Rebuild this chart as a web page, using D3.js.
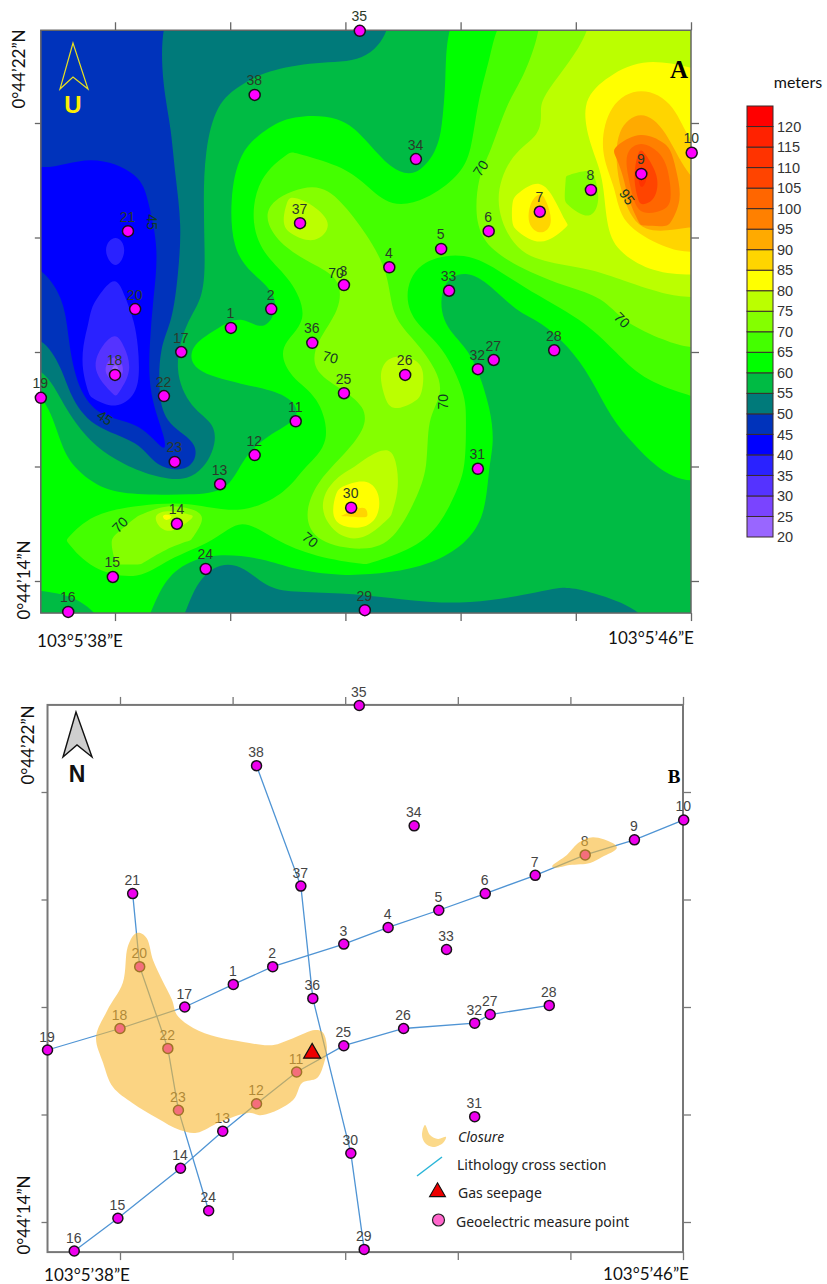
<!DOCTYPE html>
<html lang="en">

<head>
  <meta charset="UTF-8" />
  <script src="https://d3js.org/d3.v7.min.js"></script>
  <title>Geoelectric contour map and cross sections</title>
  <style>
    html, body { margin: 0; background: #fff; }
    svg { display: block; }
    text { font-family: "Liberation Sans", Arial, sans-serif; }
    .coord { font-family: Lato, sans-serif; font-size: 17px; fill: #111; }
    .legend-label { font-family: "Noto Sans", sans-serif; font-size: 14px; fill: #222; }
  </style>
</head>

<body>
  <svg width="827" height="1284"></svg>

  <script>
    // Stations, longitude and latitude are arc seconds past 103°5' and 0°44'
    const stationNo = d3.range(1, 39);
    const stationLon = [39.61, 40.17, 41.18, 41.81, 42.53, 43.19, 43.90, 44.61, 45.31, 46.01,
      40.51, 39.94, 39.46, 38.86, 37.97, 37.35, 38.92, 38.00, 36.97, 38.28,
      38.18, 38.68, 38.83, 39.26, 41.18, 42.03, 43.26, 44.10, 41.47, 41.28,
      43.04, 43.04, 42.64, 42.18, 41.40, 40.74, 40.57, 39.94];
    const stationLat = [18.42, 18.75, 19.17, 19.48, 19.80, 20.11, 20.45, 20.83, 21.11, 21.48,
      16.79, 16.20, 15.69, 15.00, 14.07, 13.46, 18.00, 17.60, 17.20, 18.75,
      20.11, 17.23, 16.08, 14.21, 17.28, 17.60, 17.86, 18.03, 13.49, 15.28,
      15.96, 17.70, 19.07, 21.37, 23.61, 18.16, 20.25, 22.49];

    // Cross section lines, as station numbers
    const sectionLines = [
      [19, 18, 17, 1, 2, 3, 4, 5, 6, 7, 8, 9, 10],
      [16, 15, 14, 13, 12, 11, 25, 26, 32, 27, 28],
      [21, 20, 22, 23, 24],
      [38, 37, 36, 30, 29]
    ];

    // Map extent and ticks, arc seconds
    const lonMin = 36.97, lonMax = 46.0, latMin = 13.44, latMax = 23.62;
    const lonTicks = [38, 39.6, 41.2, 42.8, 44.4, 46];
    const latTicks = [22, 20, 18, 16, 14];

    // Legend bands in meters
    const bandFloors = d3.range(20, 125, 5);
    const bandColors = ["#9966ff", "#7a44ff", "#5533ff", "#2a22ff", "#0000ff", "#0033bb", "#007a7a",
      "#00bb44", "#00ff00", "#44ff00", "#84ff00", "#bbff00", "#ffff00", "#ffd500", "#ffaa00",
      "#ff8000", "#ff6600", "#ff4400", "#ff3300", "#ff2200", "#ff0000"];
    const bandTicks = d3.range(20, 125, 5);

    // Values at regular points, north row first, west to east
    const fieldRows = [
      [47, 47, 47, 48, 49, 50, 51, 52, 52.5, 53, 53, 53, 53, 53, 55, 57.5, 59.5, 62, 64.5, 67.5, 70, 72.5, 75, 76, 77, 77.5, 78],
      [47, 47, 47, 48, 49, 50.3, 51, 52, 52.5, 53, 53.5, 54, 54, 54, 55.5, 57.5, 59.5, 62, 65, 68, 71, 74, 76, 78, 79.5, 79.5, 79],
      [47, 47, 47, 48, 49, 50.3, 51.5, 53, 54.5, 56, 57, 57.5, 57.5, 57, 57, 58, 59.5, 62, 65.5, 69, 72.5, 76, 78.5, 81.5, 83.5, 83, 81],
      [47, 47, 47, 48, 48.5, 50, 51.5, 55, 56.5, 58, 59, 59.5, 59.5, 59, 58, 58.5, 59.5, 63, 67.5, 71.5, 75.5, 78, 81.5, 86.5, 89, 87, 82],
      [47, 47, 47, 47.5, 48, 49.5, 52, 56, 58, 59.8, 61, 61.5, 60.5, 59.5, 58, 58, 59.8, 64, 67, 70.4, 74, 78, 82, 89.5, 93.5, 89.5, 83.5],
      [46.5, 45.4, 45.1, 45.8, 47, 49.5, 52.5, 57, 60.3, 63, 65, 64.5, 62.5, 60.5, 58.5, 57.5, 60.5, 63.5, 70, 76, 77, 78, 79.7, 97, 106, 98, 85],
      [44.9, 43.8, 43.5, 43.5, 44.8, 48.5, 52.5, 56.5, 60.8, 67, 69.5, 69, 67, 64, 60.5, 59.7, 60.8, 66.5, 74, 77, 79.5, 75, 73, 87, 114, 102, 87],
      [44.5, 41.5, 41, 41, 44, 47.5, 52.5, 57.5, 62, 69.5, 76, 74, 70, 67, 64, 64.3, 66, 68.5, 74.8, 81, 88, 74, 70, 82.7, 108, 103, 90.5],
      [44, 40.7, 40.7, 40.5, 42.5, 46.5, 52, 57, 62, 70.2, 78, 77.5, 74, 69.5, 67, 66, 66, 68.5, 73, 81.5, 90, 80.5, 75.5, 83, 95.5, 96, 90.3],
      [44.7, 41, 40.7, 39, 41, 46.5, 52.5, 57, 61.5, 66.5, 71, 74.5, 72.5, 71, 68.5, 66.5, 65.8, 65.5, 71, 75.5, 79.5, 77, 76.5, 80.5, 84, 85, 86],
      [46, 42.5, 41, 40, 41.5, 47, 53, 55.8, 58.5, 62.5, 66, 68, 70.3, 71.5, 69.9, 63.5, 61, 59, 62, 68.5, 71, 73, 74.7, 76, 79.5, 80.5, 80.5],
      [47.5, 44.5, 40.5, 38.5, 42.5, 47.5, 52.5, 57, 58, 58, 61, 65.5, 69, 71, 68, 62, 58, 55.5, 58, 62, 65, 67.5, 69, 71, 73, 74.5, 75],
      [49, 46, 39.5, 37, 41, 47.5, 57, 59, 61, 57.5, 60.5, 66, 71, 72, 70.5, 64, 59.8, 56.5, 57, 58.5, 60, 63, 66, 69.5, 71.5, 73, 74],
      [51.5, 46, 37, 32, 41, 53, 60.5, 62, 62, 62, 69.8, 71, 71, 73, 74, 71.5, 65.5, 59.9, 57.5, 57, 57.5, 59.8, 62, 65.5, 68, 69.3, 70.3],
      [57, 49, 35, 22, 41, 53, 60.2, 62, 62, 63, 68, 70.5, 71.5, 73, 77, 78.5, 68.5, 63.5, 56.5, 56, 56.5, 57.5, 60.8, 63.5, 66, 67.5, 68],
      [62, 52, 39, 34.5, 41, 54, 56.5, 58, 58.5, 59, 59.8, 64.5, 69.5, 71.5, 76.5, 76.5, 70.5, 65, 59, 56, 56, 56.5, 58, 61.5, 63, 64, 65.3],
      [63, 56.5, 47, 43, 44, 52.5, 54, 55.2, 58, 59, 58, 62, 66.5, 68.5, 74.5, 71.5, 68, 65, 60.5, 56.5, 56, 56, 56.5, 60.8, 62.5, 63.5, 64.5],
      [63.5, 59, 55, 51.5, 50.5, 43.5, 47, 54, 58.5, 60.5, 62, 63, 66, 72, 74.9, 72, 68, 65, 60.5, 56.5, 56, 56, 56, 58.3, 60.8, 61.5, 63],
      [63.5, 60.5, 58.5, 56.5, 54, 46.5, 47.5, 57, 60.5, 62, 63.5, 66.5, 72.5, 77, 76.5, 71, 69, 65, 59.5, 56, 55.5, 55.5, 55.5, 56, 58, 61.5, 62],
      [62.5, 62, 60.8, 59.3, 58.5, 57, 57.5, 59, 61, 62.5, 65.3, 72, 82, 84, 77, 70.5, 67.5, 63.5, 59.8, 56, 55.5, 55.5, 55.5, 55.5, 56, 57.5, 59.5],
      [63.5, 63, 65.5, 67, 70.5, 82, 76, 67, 65, 66, 67.5, 72.5, 85, 86, 75, 69, 66, 63.5, 59, 55.5, 55.5, 55.5, 55.5, 55.5, 55.5, 56, 56.5],
      [64.5, 65, 67, 71, 73, 74, 70, 65.5, 63, 64, 67, 71, 74.5, 74.8, 70.5, 67, 63, 60.5, 57, 56.5, 56.5, 56.5, 56.5, 56.5, 56.5, 56.5, 56.5],
      [63, 63.5, 66, 70, 70, 62.5, 58, 54.5, 54.5, 58.8, 61, 62.5, 64.5, 65, 62, 61, 59.3, 57.5, 56.5, 56.5, 56.5, 56.5, 56.5, 56.5, 56.5, 56.5, 56.5],
      [60.3, 60.2, 62, 64, 62.5, 59, 55.3, 52, 52, 54.8, 55.5, 55.7, 55.5, 55.4, 56.2, 57.5, 57.5, 57, 56.5, 55.8, 55.2, 54.8, 55.3, 56.5, 57, 57, 57],
      [57, 58, 59.5, 61, 60.2, 57, 53, 51, 51, 51.5, 52, 52.5, 52.5, 52.5, 53, 53.5, 53.5, 53.5, 53.5, 53.5, 53.5, 53.5, 53, 53.5, 54.5, 55.5, 56]
    ];

    // Labels sitting on the contours: text, lon, lat, rotation
    const contourLabels = [
      ["45", 38.51, 20.27, 90], ["70", 43.08, 21.21, -55], ["95", 45.11, 20.71, 55],
      ["70", 45.04, 18.56, 45], ["70", 41.07, 19.38, 0], ["70", 40.99, 17.91, 15],
      ["70", 42.56, 17.13, -90], ["45", 37.86, 16.85, 35], ["70", 38.07, 14.98, -45],
      ["70", 40.71, 14.72, 40]
    ];

    // Closure outlines on the lower map
    const closureWest = [[38.21, 19.36], [38.28, 19.38], [38.38, 19.28], [38.47, 18.87], [38.60, 18.50],
      [38.74, 18.13], [38.81, 17.85], [39.04, 17.61], [39.38, 17.44], [39.75, 17.35], [40.16, 17.29],
      [40.46, 17.42], [40.77, 17.57], [40.88, 17.53], [40.94, 17.26], [40.90, 16.96], [40.80, 16.68],
      [40.59, 16.59], [40.46, 16.27], [40.03, 15.99], [39.82, 16.03], [39.42, 15.86], [39.09, 15.66],
      [38.85, 15.71], [38.53, 15.93], [38.18, 16.21], [37.90, 16.51], [37.76, 16.96], [37.66, 17.44],
      [37.82, 17.94], [38.04, 18.45], [38.11, 19.12]];
    const closureEast = [[44.14, 20.62], [44.35, 20.83], [44.53, 21.07], [44.72, 21.16], [45.00, 21.05],
      [45.06, 20.96], [44.85, 20.79], [44.68, 20.68], [44.39, 20.64], [44.18, 20.59]];
    const gasSeepage = [40.73, 17.14];

    const svg = d3.select("svg");

    // Scales for the two maps
    const xA = d3.scaleLinear().domain([38, 46]).range([115, 691]);
    const yA = d3.scaleLinear().domain([14, 22]).range([581, 123]);
    const xB = d3.scaleLinear().domain([38, 46]).range([120, 683]);
    const yB = d3.scaleLinear().domain([14, 22]).range([1222, 792]);

    const station = no => [stationLon[no - 1], stationLat[no - 1]];

    // ---- Contour field ----
    const rows = fieldRows.length, cols = fieldRows[0].length;
    const gridLon = d3.scaleLinear().domain([0, cols - 1]).range([lonMin, lonMax]);
    const gridLat = d3.scaleLinear().domain([0, rows - 1]).range([latMax, latMin]);

    // repeat the edge values one cell out, so the bands run past the frame
    const padded = [];
    for (let r = -1; r <= rows; r++) {
      const row = fieldRows[Math.max(0, Math.min(rows - 1, r))];
      padded.push(row[0], ...row, row[cols - 1]);
    }
    const contours = d3.contours().size([cols + 2, rows + 2]).thresholds(bandFloors)(padded);

    const ringLine = d3.line()
      .x(d => xA(gridLon(d[0] - 1.5)))
      .y(d => yA(gridLat(d[1] - 1.5)))
      .curve(d3.curveBasisClosed);

    // long rings keep every other vertex, the grid steps show otherwise
    const ringPoints = ring => {
      const pts = ring.slice(0, -1);
      return pts.length > 14 ? pts.filter((d, i) => i % 2 === 0) : pts;
    };

    svg.append("clipPath").attr("id", "frameA").append("rect")
      .attr("x", xA(lonMin)).attr("y", yA(latMax))
      .attr("width", xA(lonMax) - xA(lonMin)).attr("height", yA(latMin) - yA(latMax));

    const mapA = svg.append("g");
    const bands = mapA.append("g").attr("clip-path", "url(#frameA)");
    bands.append("rect")
      .attr("x", xA(lonMin)).attr("y", yA(latMax))
      .attr("width", xA(lonMax) - xA(lonMin)).attr("height", yA(latMin) - yA(latMax))
      .attr("fill", bandColors[6]);
    bands.selectAll("path")
      .data(contours)
      .enter()
      .append("path")
      .attr("fill", (d, i) => bandColors[i])
      .attr("fill-rule", "evenodd")
      .attr("d", d => d.coordinates.map(poly => poly.map(ring => ringLine(ringPoints(ring))).join("")).join(""));

    // ---- Frames and ticks ----
    function drawFrame(g, x, y, color, width) {
      const ax = (call, tx, ty) => g.append("g")
        .attr("transform", `translate(${tx},${ty})`)
        .call(call)
        .call(s => s.select(".domain").remove())
        .call(s => s.selectAll("text").remove())
        .call(s => s.selectAll("line").attr("stroke", color).attr("stroke-width", 1.3));
      ax(d3.axisTop(x).tickValues(lonTicks).tickSize(8), 0, y(latMax));
      ax(d3.axisBottom(x).tickValues(lonTicks).tickSize(8), 0, y(latMin));
      ax(d3.axisLeft(y).tickValues(latTicks).tickSize(6), x(lonMin), 0);
      ax(d3.axisRight(y).tickValues(latTicks).tickSize(8), x(lonMax), 0);
      g.append("rect")
        .attr("x", x(lonMin)).attr("y", y(latMax))
        .attr("width", x(lonMax) - x(lonMin)).attr("height", y(latMin) - y(latMax))
        .attr("fill", "none").attr("stroke", color).attr("stroke-width", width);
    }

    drawFrame(mapA, xA, yA, "#666", 1.5);

    mapA.selectAll(".contour-label")
      .data(contourLabels)
      .enter()
      .append("text")
      .attr("class", "contour-label")
      .attr("transform", d => `translate(${xA(d[1])},${yA(d[2])}) rotate(${d[3]})`)
      .attr("text-anchor", "middle")
      .attr("dy", "0.35em")
      .attr("font-size", 14)
      .attr("fill", "#0f3a22")
      .text(d => d[0]);

    function drawStations(g, x, y, opt) {
      g.selectAll(".station")
        .data(stationNo)
        .enter()
        .append("circle")
        .attr("class", "station")
        .attr("cx", d => x(station(d)[0]))
        .attr("cy", d => y(station(d)[1]))
        .attr("r", opt.r)
        .attr("fill", opt.fill)
        .attr("stroke", "#1a101a")
        .attr("stroke-width", 1.5);
      g.selectAll(".station-label")
        .data(stationNo)
        .enter()
        .append("text")
        .attr("class", "station-label")
        .attr("x", d => x(station(d)[0]) - 0.5)
        .attr("y", d => y(station(d)[1]) - opt.dy)
        .attr("text-anchor", "middle")
        .attr("font-size", 14)
        .attr("fill", opt.text)
        .text(d => d);
    }

    drawStations(mapA, xA, yA, { r: 5.5, fill: "#ff00ff", text: "#2a3a2a", dy: 9.5 });

    // North arrow, panel A
    const northLine = d3.line();
    mapA.append("path")
      .attr("d", northLine([[73, 43], [60, 89], [73, 77], [88, 89]]) + "Z")
      .attr("fill", "none").attr("stroke", "#e8e020").attr("stroke-width", 1.2);
    mapA.append("text").attr("x", 73).attr("y", 113).attr("text-anchor", "middle")
      .attr("font-size", 24).attr("font-weight", "bold").attr("fill", "#ffee00").text("U");

    mapA.append("text").attr("x", 679).attr("y", 78).attr("text-anchor", "middle")
      .attr("font-weight", "bold").attr("font-size", 25)
      .style("font-family", "Liberation Serif").text("A");

    // ---- Colour bar ----
    const yLegend = d3.scaleLinear().domain([20, 125]).range([537, 106]);
    const legendBar = svg.append("g");
    legendBar.selectAll("rect")
      .data(bandFloors)
      .enter()
      .append("rect")
      .attr("x", 747)
      .attr("width", 26)
      .attr("y", d => yLegend(d + 5))
      .attr("height", d => yLegend(d) - yLegend(d + 5))
      .attr("fill", (d, i) => bandColors[i])
      .attr("stroke", "#3a2a2a")
      .attr("stroke-width", 1);
    legendBar.append("g")
      .attr("transform", "translate(773,0)")
      .call(d3.axisRight(yLegend).tickValues(bandTicks).tickSize(0).tickPadding(4))
      .call(g => g.select(".domain").remove())
      .selectAll("text")
      .attr("font-size", 14.5)
      .attr("font-family", "Liberation Sans")
      .attr("fill", "#333");
    svg.append("text").attr("x", 798).attr("y", 88)
      .attr("text-anchor", "middle").style("font-family", "Lato").style("font-size", "16px").style("fill", "#111").text("meters");

    // ---- Lower map ----
    const mapB = svg.append("g");
    const sectionPath = d3.line().x(d => xB(station(d)[0])).y(d => yB(station(d)[1]));
    mapB.selectAll(".section")
      .data(sectionLines)
      .enter()
      .append("path")
      .attr("class", "section")
      .attr("d", sectionPath)
      .attr("fill", "none")
      .attr("stroke", "#4f94d4")
      .attr("stroke-width", 1.3);

    drawFrame(mapB, xB, yB, "#777", 2);
    drawStations(mapB, xB, yB, { r: 5, fill: "#ee00ee", text: "#444", dy: 8.5 });

    const closurePath = d3.line().x(d => xB(d[0])).y(d => yB(d[1])).curve(d3.curveCatmullRomClosed.alpha(0.5));
    mapB.selectAll(".closure")
      .data([closureWest, closureEast])
      .enter()
      .append("path")
      .attr("class", "closure")
      .attr("d", closurePath)
      .attr("fill", "#f8b830")
      .attr("fill-opacity", 0.6);

    mapB.append("path")
      .attr("d", d3.symbol(d3.symbolTriangle, 125)())
      .attr("transform", `translate(${xB(gasSeepage[0])},${yB(gasSeepage[1])})`)
      .attr("fill", "#ee0000").attr("stroke", "#111").attr("stroke-width", 1.2);

    mapB.append("path")
      .attr("d", northLine([[76, 712], [63, 757], [77, 745], [92, 757]]) + "Z")
      .attr("fill", "#cfcfcf").attr("stroke", "#111").attr("stroke-width", 1.4);
    mapB.append("text").attr("x", 77).attr("y", 782).attr("text-anchor", "middle")
      .attr("font-size", 23).attr("font-weight", "bold").attr("fill", "#111").text("N");

    mapB.append("text").attr("x", 674).attr("y", 783).attr("text-anchor", "middle")
      .attr("font-weight", "bold").attr("font-size", 19)
      .style("font-family", "Liberation Serif").text("B");

    // ---- Key ----
    const key = svg.append("g");
    key.append("path")
      .attr("d", d3.line().curve(d3.curveCatmullRomClosed)([[425, 1125], [430, 1135], [438, 1139], [446, 1137], [443, 1143], [433, 1147], [425, 1143], [422, 1135]]))
      .attr("fill", "#fbd98a");
    key.append("line").attr("x1", 417).attr("y1", 1176).attr("x2", 442).attr("y2", 1157)
      .attr("stroke", "#29b5d8").attr("stroke-width", 1.5);
    key.append("path")
      .attr("d", d3.symbol(d3.symbolTriangle, 110)())
      .attr("transform", "translate(437.5,1192)")
      .attr("fill", "#ee0000").attr("stroke", "#111").attr("stroke-width", 1.1);
    key.append("circle").attr("cx", 438.5).attr("cy", 1220).attr("r", 6)
      .attr("fill", "#ff66cc").attr("stroke", "#222").attr("stroke-width", 1.2);

    const keyLabels = [
      ["Closure", 458, 1142, "italic"],
      ["Lithology cross section", 457, 1170, "normal"],
      ["Gas seepage", 458, 1198, "normal"],
      ["Geoelectric measure point", 456, 1227, "normal"]
    ];
    key.selectAll(".legend-label")
      .data(keyLabels)
      .enter()
      .append("text")
      .attr("class", "legend-label")
      .attr("x", d => d[1]).attr("y", d => d[2])
      .attr("font-style", d => d[3])
      .text(d => d[0]);

    // ---- Coordinate captions ----
    const lonCaptions = [
      ["103°5’38”E", 80, 647], ["103°5’46”E", 651, 644],
      ["103°5’38”E", 87, 1281], ["103°5’46”E", 646, 1280]
    ];
    svg.selectAll(".lon-caption")
      .data(lonCaptions)
      .enter()
      .append("text")
      .attr("class", "coord lon-caption")
      .attr("x", d => d[1]).attr("y", d => d[2])
      .attr("text-anchor", "middle")
      .text(d => d[0]);

    const latCaptions = [
      ["0°44’22”N", 25, 69], ["0°44’14”N", 30, 580],
      ["0°44’22”N", 34, 745], ["0°44’14”N", 30, 1215]
    ];
    svg.selectAll(".lat-caption")
      .data(latCaptions)
      .enter()
      .append("text")
      .attr("class", "coord lat-caption")
      .attr("transform", d => `translate(${d[1]},${d[2]}) rotate(-90)`)
      .attr("text-anchor", "middle")
      .text(d => d[0]);
  </script>
</body>

</html>
